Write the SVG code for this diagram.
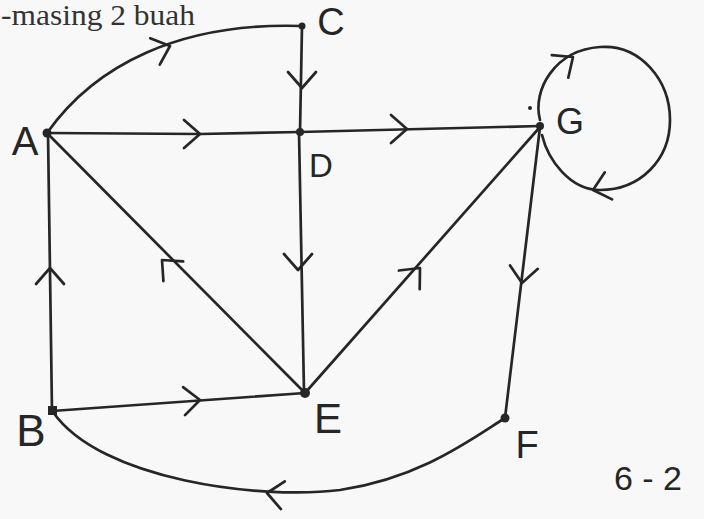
<svg xmlns="http://www.w3.org/2000/svg" width="704" height="519" viewBox="0 0 704 519">
<defs>
<style>
.e{fill:none;stroke:#262626;stroke-width:2.7;stroke-linecap:round;stroke-linejoin:round}
.ah{fill:none;stroke:#262626;stroke-width:2.7;stroke-linecap:round;stroke-linejoin:round}
.dot{fill:#262626}
.lbl{font-family:"Liberation Sans","DejaVu Sans",sans-serif;fill:#262626;text-anchor:middle}
.note{font-family:"Liberation Serif","DejaVu Serif",serif;fill:#333;font-size:29px}
</style>
<path id="ah" d="M-16,-14 L0,0 L-16,14"/>
</defs>
<rect width="704" height="519" fill="#f8f8f8"/>
<text class="note" x="1" y="25" textLength="194" lengthAdjust="spacingAndGlyphs">-masing 2 buah</text>
<g id="connectors">
<path class="e" d="M47,133 C95,65 180,22 302,26"/>
<path class="e" d="M302,26 L300,132"/>
<path class="e" d="M47,133 L200,134 L300,132"/>
<path class="e" d="M300,132 L540,126"/>
<path class="e" d="M299,132 L304,392"/>
<path class="e" d="M47,133 L304,392"/>
<path class="e" d="M52,411 L48,133"/>
<path class="e" d="M52,411 L305,393"/>
<path class="e" d="M305,393 L540,127"/>
<path class="e" d="M540,127 Q528,230 505,418"/>
<path class="e" d="M505,418 C470,440 420,478 340,490 C260,500 100,480 53,412"/>
<path class="e" d="M540,120 C532,90 555,50 600,47 C640,44 670,80 670,120 C670,160 640,190 600,190 C570,190 548,160 542,135"/>
<use href="#ah" class="ah" transform="translate(170,46) rotate(-20)"/>
<use href="#ah" class="ah" transform="translate(302,88) rotate(90)"/>
<use href="#ah" class="ah" transform="translate(200,134) rotate(0)"/>
<use href="#ah" class="ah" transform="translate(407,129) rotate(0)"/>
<use href="#ah" class="ah" transform="translate(298,270) rotate(90)"/>
<use href="#ah" class="ah" transform="translate(162,260) rotate(225)"/>
<use href="#ah" class="ah" transform="translate(50,268) rotate(-90)"/>
<use href="#ah" class="ah" transform="translate(200,400) rotate(-4)"/>
<use href="#ah" class="ah" transform="translate(420,268) rotate(-48)"/>
<use href="#ah" class="ah" transform="translate(522,283) rotate(97)"/>
<use href="#ah" class="ah" transform="translate(267,493) rotate(188)"/>
<use href="#ah" class="ah" transform="translate(573,57) rotate(-36)"/>
<use href="#ah" class="ah" transform="translate(593,190) rotate(165)"/>
</g>
<g id="node-A"><circle class="dot" cx="47" cy="133" r="4.5"/><text class="lbl" x="25" y="155" font-size="40">A</text></g>
<g id="node-C"><circle class="dot" cx="302" cy="26" r="3.5"/><text class="lbl" x="331" y="35" font-size="38">C</text></g>
<g id="node-D"><circle class="dot" cx="300" cy="132" r="4"/><text class="lbl" x="321" y="177" font-size="33">D</text></g>
<g id="node-G"><circle class="dot" cx="540" cy="126" r="4"/><circle class="dot" cx="530" cy="108" r="2"/><text class="lbl" x="570" y="134" font-size="36">G</text></g>
<g id="node-B"><rect class="dot" x="48" y="406" width="9" height="9"/><text class="lbl" x="31" y="446" font-size="44">B</text></g>
<g id="node-E"><circle class="dot" cx="305" cy="393" r="5"/><text class="lbl" x="328" y="433" font-size="42">E</text></g>
<g id="node-F"><circle class="dot" cx="505" cy="418" r="4.5"/><text class="lbl" x="527" y="458" font-size="38">F</text></g>
<text class="lbl" x="648" y="490" font-size="34">6 - 2</text>
</svg>
